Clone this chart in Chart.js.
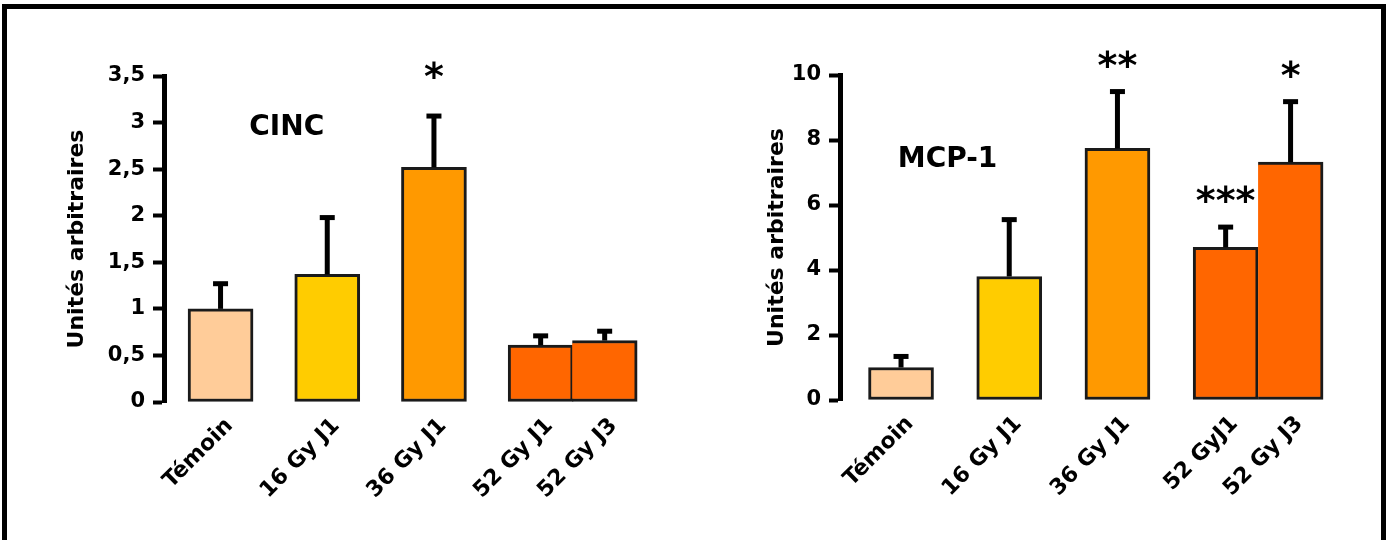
<!DOCTYPE html>
<html>
<head>
<meta charset="utf-8">
<script src="https://cdn.jsdelivr.net/npm/chart.js@4/dist/chart.umd.min.js"></script>
<style>
  html, body { margin: 0; padding: 0; background: #fff; overflow: hidden; }
  body { width: 1391px; height: 540px; position: relative; }
  #cadre {
    position: absolute; left: 2px; top: 4px; width: 1384px; height: 600px;
    box-sizing: border-box; border: 5px solid #000; border-bottom: none;
  }
  canvas { position: absolute; top: 0; }
  #cinc { left: 0; }
  #mcp { left: 700px; }
</style>
</head>
<body>
<div id="cadre"></div>
<canvas id="cinc" width="700" height="540"></canvas>
<canvas id="mcp" width="691" height="540"></canvas>
<script>
// DONNEES
const groupesCinc = ["Témoin", "16 Gy J1", "36 Gy J1", "52 Gy J1", "52 Gy J3"];
const groupesMcp = ["Témoin", "16 Gy J1", "36 Gy J1", "52 GyJ1", "52 Gy J3"];

const cincMoyenne = [1.0, 1.37, 2.52, 0.61, 0.66];
const cincErreur = [0.27, 0.61, 0.55, 0.1, 0.1];
const cincSignif = ["", "", "*", "", ""];
const cincTicks = [0, 0.5, 1, 1.5, 2, 2.5, 3, 3.5];

const mcpMoyenne = [1.0, 3.8, 7.74, 4.7, 7.32];
const mcpErreur = [0.34, 1.75, 1.75, 0.62, 1.86];
const mcpSignif = ["", "", "**", "***", "*"];
const mcpTicks = [0, 2, 4, 6, 8, 10];

const couleurs = ["#FFCC99", "#FFCC00", "#FF9900", "#FF6600", "#FF6600"];

// the two 52 Gy bars sit side by side
const emplacement = [0, 1, 2, 3, 3.6];

const police = "'DejaVu Sans'";

function dessiner(id, opts) {
  const erreurs = {
    id: "erreurs",
    afterDatasetsDraw(chart) {
      const ctx = chart.ctx;
      const y = chart.scales.y;
      const x = chart.scales.x;
      const meta = chart.getDatasetMeta(0);
      ctx.save();
      ctx.fillStyle = "#000";
      meta.data.forEach((bar, i) => {
        const haut = y.getPixelForValue(opts.moyenne[i] + opts.erreur[i]);
        ctx.fillRect(bar.x - 2.5, haut, 5, bar.y - haut);
        ctx.fillRect(bar.x - 7.5, haut - 2.5, 15, 5);
        if (opts.signif[i]) {
          ctx.font = "bold 38px " + police;
          ctx.textAlign = "center";
          ctx.textBaseline = "alphabetic";
          const m = ctx.measureText(opts.signif[i]);
          const cy = haut - opts.decalage;
          ctx.fillText(opts.signif[i], bar.x, cy + (m.actualBoundingBoxAscent - m.actualBoundingBoxDescent) / 2);
        }
      });
      // chart name
      ctx.font = "bold 28px " + police;
      ctx.textAlign = "center";
      ctx.textBaseline = "middle";
      ctx.fillText(opts.titre, x.getPixelForValue(opts.titrePos[0]), y.getPixelForValue(opts.titrePos[1]));
      ctx.restore();
    },
  };

  return new Chart(document.getElementById(id), {
    type: "bar",
    data: {
      datasets: [
        {
          data: opts.moyenne.map((v, i) => ({ x: emplacement[i], y: v })),
          backgroundColor: couleurs,
          borderColor: "#1a1a1a",
          borderWidth: (c) => (c.dataIndex === 4 ? { top: 3, right: 3, bottom: 3, left: 0 } : 3),
          borderSkipped: false,
          barThickness: 65,
        },
      ],
    },
    options: {
      responsive: false,
      animation: false,
      devicePixelRatio: 1,
      layout: { padding: { left: 60, top: opts.haut, right: opts.droite, bottom: 0 } },
      plugins: { legend: { display: false }, tooltip: { enabled: false } },
      scales: {
        x: {
          type: "linear",
          offset: false,
          min: opts.xmin,
          max: opts.xmax,
          afterBuildTicks: (s) => {
            s.ticks = emplacement.map((v) => ({ value: v }));
          },
          afterFit: (s) => {
            s.height = opts.hauteurX;
          },
          grid: { display: false },
          border: { display: false },
          ticks: {
            autoSkip: false,
            maxRotation: 45,
            minRotation: 45,
            padding: 3,
            labelOffset: 9,
            color: "#000",
            font: { family: police, size: 22, weight: "bold" },
            callback: (v, i) => opts.groupes[i],
          },
        },
        y: {
          min: 0,
          max: opts.ticks[opts.ticks.length - 1],
          afterBuildTicks: (s) => {
            s.ticks = opts.ticks.map((v) => ({ value: v }));
          },
          afterFit: (s) => {
            s.width = opts.largeurY;
          },
          border: { display: true, width: 5, color: "#000" },
          grid: { drawOnChartArea: false, drawTicks: true, tickLength: 11, tickWidth: 4, tickColor: "#000" },
          ticks: {
            padding: 8,
            color: "#000",
            font: { family: police, size: 21, weight: "bold" },
            callback: (v) => String(v).replace(".", ","),
          },
          title: {
            display: true,
            text: "Unités arbitraires",
            color: "#000",
            font: { family: police, size: 22, weight: "bold" },
          },
        },
      },
    },
    plugins: [erreurs],
  });
}

dessiner("cinc", {
  groupes: groupesCinc,
  moyenne: cincMoyenne,
  erreur: cincErreur,
  signif: cincSignif,
  ticks: cincTicks,
  titre: "CINC",
  titrePos: [0.62, 2.95],
  decalage: 46,
  haut: 76,
  droite: 20,
  hauteurX: 138,
  largeurY: 104,
  xmin: -0.53,
  xmax: 4.306,
});

dessiner("mcp", {
  groupes: groupesMcp,
  moyenne: mcpMoyenne,
  erreur: mcpErreur,
  signif: mcpSignif,
  ticks: mcpTicks,
  titre: "MCP-1",
  titrePos: [0.43, 7.4],
  decalage: 33,
  haut: 75,
  droite: 21,
  hauteurX: 140,
  largeurY: 80,
  xmin: -0.564,
  xmax: 4.334,
});
</script>
</body>
</html>
